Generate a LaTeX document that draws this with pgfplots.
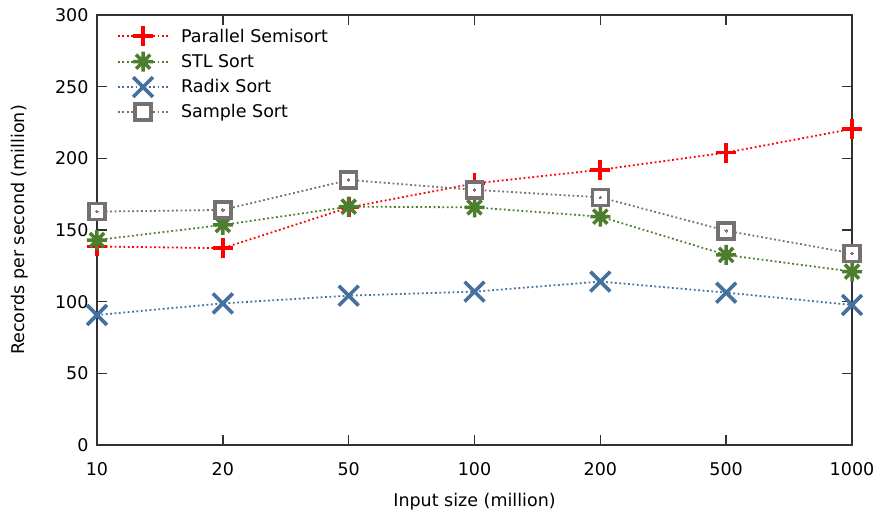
\documentclass[border=0pt]{standalone}
\usepackage{fontspec}
\setmainfont{DejaVu Sans}
\usepackage{pgfplots}
\pgfplotsset{compat=1.18}
\definecolor{cred}{RGB}{255,0,0}
\definecolor{cgreen}{RGB}{77,125,46}
\definecolor{cblue}{RGB}{69,113,158}
\definecolor{cgray}{RGB}{118,112,112}
\definecolor{caxis}{RGB}{50,50,50}
\pgfdeclareplotmark{gstar}{%
  \pgfpathmoveto{\pgfqpoint{-\pgfplotmarksize}{0pt}}\pgfpathlineto{\pgfqpoint{\pgfplotmarksize}{0pt}}%
  \pgfpathmoveto{\pgfqpoint{0pt}{-\pgfplotmarksize}}\pgfpathlineto{\pgfqpoint{0pt}{\pgfplotmarksize}}%
  \pgfpathmoveto{\pgfqpoint{-.7071\pgfplotmarksize}{-.7071\pgfplotmarksize}}\pgfpathlineto{\pgfqpoint{.7071\pgfplotmarksize}{.7071\pgfplotmarksize}}%
  \pgfpathmoveto{\pgfqpoint{-.7071\pgfplotmarksize}{.7071\pgfplotmarksize}}\pgfpathlineto{\pgfqpoint{.7071\pgfplotmarksize}{-.7071\pgfplotmarksize}}%
  \pgfusepathqstroke}
\begin{document}
\begin{tikzpicture}
\useasboundingbox (-97pt,-73pt) rectangle (778pt,445pt);
\begin{axis}[
  at={(0pt,0pt)}, anchor=south west, scale only axis,
  width=755pt, height=430pt,
  xmin=0, xmax=6, ymin=0, ymax=300,
  xtick={0,...,6}, xticklabels={10,20,50,100,200,500,1000},
  ytick={0,50,...,300},
  xtick pos=both, ytick pos=both,
  xticklabel pos=lower, yticklabel pos=left,
  tick align=inside, major tick length=10pt,
  tick style={draw=caxis, line width=1.5pt},
  axis line style={draw=caxis, line width=1.4pt},
  font=\fontsize{17.5}{21}\selectfont,
  /pgf/number format/assume math mode=true,
  xticklabel style={anchor=center, yshift=-24pt},
  yticklabel style={anchor=east, xshift=-5pt},
  xlabel={Input size (million)},
  ylabel={Records per second (million)},
  xlabel style={at={([yshift=-57pt]axis description cs:0.5,0)}, anchor=center},
  ylabel style={at={([xshift=-77pt]axis description cs:0,0.5)}, anchor=center},
  legend cell align=left,
  legend style={draw=none, fill=none, at={(axis cs:0,300)}, anchor=north west,
    xshift=17pt, yshift=-9pt, row sep=5.5pt, font=\fontsize{17.5}{21}\selectfont},
  legend image code/.code={\draw[mark repeat=2,mark phase=2] plot coordinates {(0pt,0pt)(25pt,0pt)(50pt,0pt)}; \path (0pt,0pt) (60pt,0pt);},
  every axis plot/.append style={line width=1.8pt, dash pattern=on 1.8pt off 2.6pt},
]
\addplot[cred, mark=+, mark size=10, mark options={solid, line width=3.8pt}]
  coordinates {(0,138.5) (1,137.3) (2,165.7) (3,182.5) (4,192) (5,204) (6,220.5)};
\addlegendentry{Parallel Semisort}
\addplot[cgreen, mark=gstar, mark size=10, mark options={solid, line width=3.5pt}]
  coordinates {(0,143) (1,153.5) (2,166.3) (3,165.8) (4,159.3) (5,132.6) (6,121)};
\addlegendentry{STL Sort}
\addplot[cblue, mark=x, mark size=14, mark options={solid, line width=3.6pt}]
  coordinates {(0,90.7) (1,98.8) (2,104.2) (3,107) (4,114) (5,106.3) (6,97.7)};
\addlegendentry{Radix Sort}
\addplot[cgray, mark=square*, mark size=8, mark options={solid, line width=3.6pt, fill=white}]
  coordinates {(0,162.8) (1,164) (2,184.9) (3,178) (4,172.8) (5,149.5) (6,133.7)};
\addlegendentry{Sample Sort}
\addplot[cgray, forget plot, only marks, mark=*, mark size=1.3, mark options={solid, line width=0pt}]
  coordinates {(0,162.8) (1,164) (2,184.9) (3,178) (4,172.8) (5,149.5) (6,133.7)};
\end{axis}
\end{tikzpicture}
\end{document}
